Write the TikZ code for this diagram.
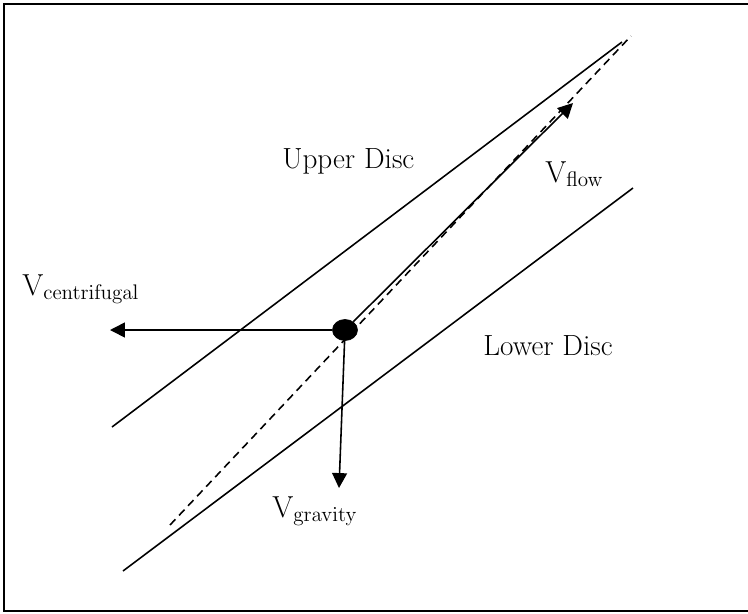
\documentclass[tikz,border=0pt]{standalone}
\usepackage{amsmath}
\usepackage{tikz}
\usetikzlibrary{arrows.meta,shapes.geometric}

\begin{document}
\begin{tikzpicture}[
    x=0.02cm, y=-0.02cm,
    disc/.style={line width=0.9pt, black},
    axis/.style={line width=0.9pt, black, dash pattern=on 4.5pt off 3pt},
    vec/.style={-{Triangle[length=8.5pt, width=8.5pt]}, line width=0.9pt, black},
    lbl/.style={font=\fontsize{16.6}{20}\selectfont, inner sep=0pt, anchor=base west},
    particle/.style={ellipse, fill=black, draw=black, inner sep=0pt,
        minimum width=0.5cm, minimum height=0.42cm}
]
    \useasboundingbox (0,0) rectangle (748,613);

    % Frame
    \draw[line width=1.1pt] (748,4) -- (4,4) -- (4,611) -- (748,611);

    % Disc walls and mid axis
    \coordinate (uA) at (112,427);
    \coordinate (uB) at (622,42);
    \coordinate (lA) at (123,571);
    \coordinate (lB) at (633,188);
    \coordinate (dA) at (170,525);
    \coordinate (dB) at (631,36);
    \draw[disc] (uA) -- (uB);
    \draw[disc] (lA) -- (lB);
    \draw[axis] (dA) -- (dB);

    % Particle
    \node[particle] (dot) at (345,330) {};

    % Velocity vectors
    \coordinate (ftip) at (573,103);
    \coordinate (ctip) at (110,330);
    \coordinate (gtip) at (339,488);
    \draw[vec] (dot) -- (ftip);
    \draw[vec] (dot) -- (ctip);
    \draw[vec] (dot) -- (gtip);

    % Labels
    \node[lbl] (upper) at (282,168) {Upper Disc};
    \node[lbl] (lower) at (483,355) {Lower Disc};
    \node[lbl] (vflow) at (545,182) {$\mathrm{V}_{\mathrm{flow}}$};
    \node[lbl] (vcent) at (22,295) {$\mathrm{V}_{\mathrm{centrifugal}}$};
    \node[lbl] (vgrav) at (272,517) {$\mathrm{V}_{\mathrm{gravity}}$};

\end{tikzpicture}
\end{document}
